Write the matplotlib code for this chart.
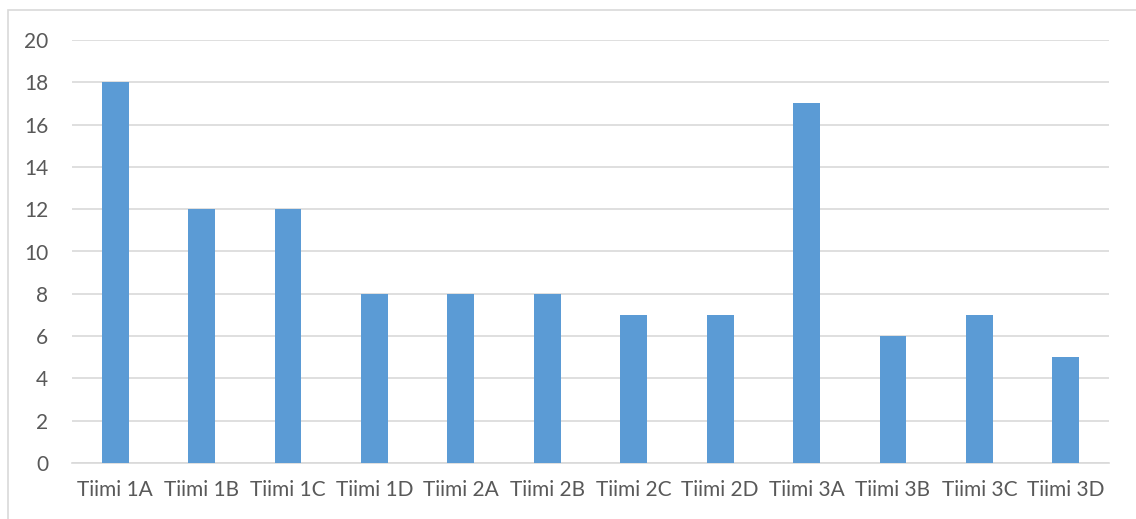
import matplotlib
matplotlib.use("Agg")
import matplotlib.pyplot as plt
from matplotlib.patches import Rectangle

categories = ["Tiimi 1A", "Tiimi 1B", "Tiimi 1C", "Tiimi 1D", "Tiimi 2A", "Tiimi 2B",
              "Tiimi 2C", "Tiimi 2D", "Tiimi 3A", "Tiimi 3B", "Tiimi 3C", "Tiimi 3D"]
values = [18, 12, 12, 8, 8, 8, 7, 7, 17, 6, 7, 5]
yticks = [0, 2, 4, 6, 8, 10, 12, 14, 16, 18, 20]

plt.rcParams['font.family'] = ['Lato', 'DejaVu Sans']

W, H = 1136, 519
fig = plt.figure(figsize=(W / 100, H / 100), dpi=100)
fig.patches.append(Rectangle((8 / W, -0.01), 1.02, 1 - 10 / H + 0.01,
                             transform=fig.transFigure, fill=False,
                             edgecolor="#D9D9D9", linewidth=1.2))

ax = fig.add_axes([72 / W, 1 - 463 / H, (1109 - 72) / W, (463 - 40) / H])
x = range(len(categories))
ax.bar(x, values, width=0.31, color="#5B9BD5", zorder=3)
ax.set_xlim(-0.5, len(categories) - 0.5)
ax.set_ylim(0, 20)
ax.set_yticks(yticks)
ax.set_xticks(list(x))
ax.set_xticklabels(categories)
ax.yaxis.grid(True, color="#D9D9D9", linewidth=1.2, zorder=0)
for s in ["top", "right", "left"]:
    ax.spines[s].set_visible(False)
ax.spines["bottom"].set_color("#D9D9D9")
ax.spines["bottom"].set_linewidth(1.2)
ax.tick_params(axis="both", length=0, labelsize=15, colors="#595959")
ax.tick_params(axis="y", pad=17)
ax.tick_params(axis="x", pad=12)

fig.savefig("out.png", dpi=100)
